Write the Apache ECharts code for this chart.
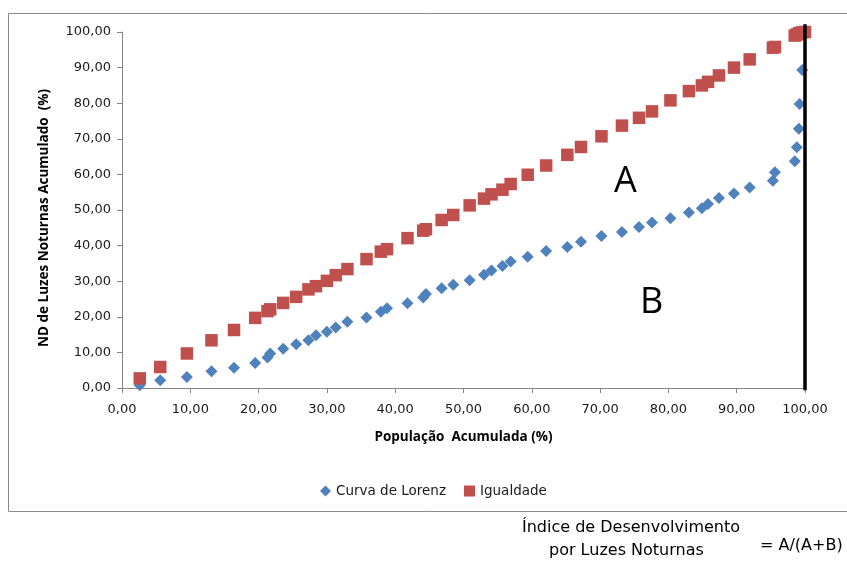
<!DOCTYPE html>
<html>
<head>
<meta charset="utf-8">
<script src="https://cdn.jsdelivr.net/npm/echarts@6/dist/echarts.min.js"></script>
<style>
html,body{margin:0;padding:0;background:#fff;}
#chart{width:847px;height:562px;}
</style>
</head>
<body>
<div id="chart"></div>
<script>
// População acumulada (%) - shared x values
var populacao = [2.6, 5.6, 9.5, 13.1, 16.4, 19.5, 21.3, 21.7, 23.6, 25.5, 27.3, 28.4, 30.0, 31.3, 33.0, 35.8, 37.9, 38.8, 41.8, 44.1, 44.5, 46.8, 48.5, 50.9, 53.0, 54.1, 55.7, 56.9, 59.4, 62.1, 65.2, 67.2, 70.2, 73.2, 75.7, 77.6, 80.3, 83.0, 84.9, 85.8, 87.4, 89.6, 91.9, 95.3, 95.6, 98.5, 98.8, 99.1, 99.2, 99.6, 100.0];
// Curva de Lorenz (ND de luzes noturnas acumulado %)
var lorenz = [0.8, 2.2, 3.1, 4.7, 5.7, 7.0, 8.6, 9.7, 11.0, 12.3, 13.4, 14.8, 15.8, 17.0, 18.6, 19.8, 21.4, 22.4, 23.8, 25.4, 26.4, 28.0, 29.0, 30.3, 31.8, 33.0, 34.3, 35.5, 36.9, 38.5, 39.6, 41.1, 42.7, 43.8, 45.2, 46.5, 47.7, 49.3, 50.5, 51.7, 53.4, 54.6, 56.3, 58.2, 60.6, 63.7, 67.6, 72.8, 79.8, 89.3, 100.0];
// Igualdade
var igualdade = [2.7, 5.9, 9.7, 13.4, 16.3, 19.7, 21.6, 22.1, 23.9, 25.6, 27.7, 28.6, 30.1, 31.7, 33.4, 36.2, 38.3, 39.0, 42.1, 44.2, 44.6, 47.2, 48.6, 51.3, 53.2, 54.4, 55.7, 57.3, 59.9, 62.5, 65.5, 67.7, 70.7, 73.7, 75.9, 77.7, 80.8, 83.4, 85.0, 86.0, 87.8, 90.0, 92.3, 95.6, 95.8, 99.0, 99.3, 99.5, 99.7, 99.9, 100.0];
// vertical reference line at 100% population
var linhaX = [100, 100];
var linhaY = [-0.6, 102.2];
var ticks = [0, 10, 20, 30, 40, 50, 60, 70, 80, 90, 100];

function pairs(xs, ys){ return xs.map(function(x,i){ return [x, ys[i]]; }); }
function fmt(v){ return v.toFixed(2).replace('.', ','); }

var chart = echarts.init(document.getElementById('chart'), null, {renderer:'canvas'});
var axisColor = '#868686';
var option = {
  animation: false,
  backgroundColor: '#ffffff',
  grid: {left: 122, right: 42, top: 32, bottom: 174, containLabel: false},
  xAxis: {
    type: 'value', min: ticks[0], max: ticks[ticks.length-1], interval: 10,
    name: 'População  Acumulada (%)', nameLocation: 'middle', nameGap: 42,
    nameTextStyle: {fontFamily: 'Open Sans', fontWeight: 'bold', fontSize: 13.5, color: '#000'},
    axisLine: {show: true, lineStyle: {color: axisColor, width: 1}},
    axisTick: {show: true, length: 5, inside: false, lineStyle: {color: axisColor}},
    axisLabel: {formatter: fmt, fontFamily: 'DejaVu Sans', fontSize: 13, color: '#1a1a1a', margin: 15},
    splitLine: {show: false}
  },
  yAxis: {
    type: 'value', min: ticks[0], max: ticks[ticks.length-1], interval: 10,
    name: 'ND de Luzes Noturnas Acumulado  (%)', nameLocation: 'middle', nameGap: 71, nameRotate: 90,
    nameTextStyle: {fontFamily: 'Open Sans', fontWeight: 'bold', fontSize: 13.5, color: '#000', padding: [0, 16, 0, 0]},
    axisLine: {show: true, lineStyle: {color: axisColor, width: 1}},
    axisTick: {show: true, length: 5, inside: false, lineStyle: {color: axisColor}},
    axisLabel: {formatter: fmt, fontFamily: 'DejaVu Sans', fontSize: 13, color: '#1a1a1a', margin: 11},
    splitLine: {show: false}
  },
  legend: {
    left: 315, top: 479, itemWidth: 11, itemHeight: 11, itemGap: 18,
    textStyle: {fontFamily: 'DejaVu Sans', fontSize: 13.5, color: '#1a1a1a'},
    data: [
      {name: 'Curva de Lorenz', icon: 'diamond'},
      {name: 'Igualdade', icon: 'rect'}
    ]
  },
  series: [
    {
      name: 'Curva de Lorenz', type: 'scatter', symbol: 'diamond', symbolSize: 12,
      itemStyle: {color: '#4F81BD', opacity: 1},
      data: pairs(populacao, lorenz), z: 2
    },
    {
      name: 'Igualdade', type: 'scatter', symbol: 'rect', symbolSize: 12.5,
      itemStyle: {color: '#C0504D', opacity: 1},
      data: pairs(populacao, igualdade), z: 3
    },
    {
      name: 'linha', type: 'line', data: pairs(linhaX, linhaY), symbol: 'none', clip: false,
      lineStyle: {color: '#000', width: 3.5}, z: 5, silent: true
    }
  ],
  graphic: [
    {type: 'rect', shape: {x: 8.5, y: 13.5, width: 850, height: 498}, style: {fill: 'none', stroke: '#8a8a8a', lineWidth: 1}, z: -1},
    {type: 'text', left: 614, top: 164, style: {text: 'A', font: '36px "Open Sans"', fill: '#000'}},
    {type: 'text', left: 640, top: 285, style: {text: 'B', font: '36px "Open Sans"', fill: '#000'}},
    {type: 'text', left: 522, top: 520, style: {text: 'Índice de Desenvolvimento', font: '16px "DejaVu Sans"', fill: '#000'}},
    {type: 'text', left: 549, top: 543, style: {text: 'por Luzes Noturnas', font: '16px "DejaVu Sans"', fill: '#000'}},
    {type: 'text', left: 760, top: 538, style: {text: '= A/(A+B)', font: '16px "DejaVu Sans"', fill: '#000'}}
  ]
};
chart.setOption(option);
</script>
</body>
</html>
